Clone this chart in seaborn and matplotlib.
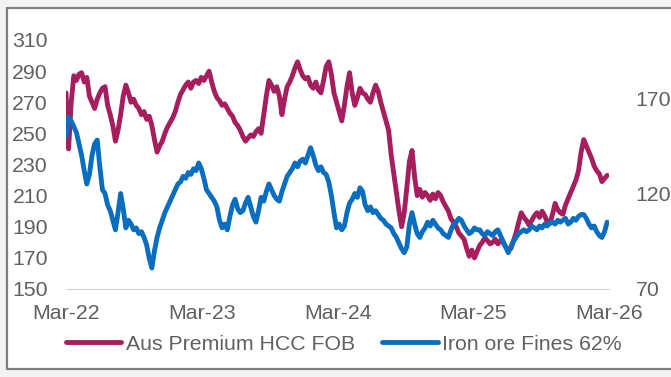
import seaborn as sns
import numpy as np
import matplotlib.pyplot as plt
import matplotlib.patches as mpatches
import pandas as pd

# weekly readings, Mar-22 .. Feb-26
hcc = [276, 240, 270, 287, 284, 288, 289, 283, 286, 274,
       270, 266, 272, 276, 279, 280, 268, 262, 255, 245,
       252, 262, 274, 281, 276, 270, 272, 268, 266, 262,
       264, 259, 261, 255, 246, 238, 242, 245, 250, 254,
       257, 260, 264, 270, 275, 278, 281, 283, 279, 283,
       284, 282, 286, 284, 287, 290, 283, 277, 273, 271,
       268, 269, 266, 263, 261, 257, 255, 252, 248, 245,
       247, 249, 248, 251, 253, 250, 262, 274, 284, 281,
       277, 280, 274, 262, 272, 280, 283, 287, 292, 296,
       291, 287, 285, 286, 281, 279, 283, 278, 276, 284,
       293, 296, 288, 276, 270, 264, 258, 268, 280, 289,
       276, 268, 273, 279, 276, 275, 272, 270, 276, 281,
       277, 270, 264, 258, 252, 236, 224, 212, 200, 190,
       199, 215, 232, 239, 222, 210, 214, 209, 212, 210,
       207, 211, 208, 212, 210, 206, 203, 200, 195, 193,
       190, 186, 184, 182, 176, 171, 175, 170, 174, 178,
       180, 183, 181, 179, 180, 182, 179, 181, 180, 177,
       175, 176, 181, 186, 193, 199, 196, 194, 191, 194,
       197, 199, 196, 200, 197, 193, 192, 198, 205, 201,
       199, 198, 204, 208, 212, 216, 220, 226, 238, 246,
       242, 238, 234, 229, 226, 224, 219, 221, 223]

iron_ore = [150, 160, 158, 155, 152, 146, 140, 132, 125, 130,
            140, 146, 148, 134, 122, 120, 114, 111, 106, 101,
            110, 120, 112, 102, 106, 104, 101, 102, 99, 100,
            97, 93, 86, 81, 90, 97, 102, 106, 110, 113,
            116, 119, 122, 125, 126, 129, 128, 131, 130, 133,
            132, 136, 133, 128, 122, 120, 118, 116, 113, 106,
            102, 104, 101, 108, 114, 117, 112, 110, 111, 115,
            118, 113, 108, 105, 111, 118, 116, 121, 125, 122,
            119, 117, 116, 121, 125, 129, 131, 133, 136, 134,
            137, 138, 136, 140, 144, 140, 135, 132, 134, 131,
            130, 126, 119, 110, 102, 104, 101, 103, 110, 115,
            117, 120, 118, 123, 121, 114, 111, 113, 110, 111,
            109, 107, 106, 104, 103, 102, 99, 97, 94, 91,
            89, 92, 104, 110, 104, 99, 97, 100, 102, 105,
            103, 106, 104, 102, 101, 99, 98, 97, 101, 104,
            105, 107, 106, 103, 101, 99, 100, 102, 101, 101,
            99, 98, 100, 99, 98, 100, 101, 98, 95, 92,
            89, 92, 95, 97, 99, 100, 101, 100, 101, 103,
            102, 101, 103, 102, 104, 103, 105, 105, 104, 106,
            105, 106, 107, 104, 105, 107, 106, 108, 109, 109,
            107, 104, 102, 103, 100, 98, 97, 100, 105]

x_ticks = ["2022-03-01", "2023-03-01", "2024-03-01", "2025-03-01", "2026-03-01"]
x_tick_labels = ["Mar-22", "Mar-23", "Mar-24", "Mar-25", "Mar-26"]
left_ticks = [150, 170, 190, 210, 230, 250, 270, 290, 310]
right_ticks = [70, 120, 170]

col_hcc = "#A61E5E"
col_iron = "#0A6EC0"
grey_txt = "#606060"


def create_chart():
    dates = pd.date_range("2022-03-01", periods=len(hcc), freq="7D")
    data = pd.DataFrame({"date": dates, "hcc": hcc, "iron": iron_ore})

    sns.set_style("white")
    plt.rcParams["font.family"] = ["Liberation Sans", "DejaVu Sans"]

    fig = plt.figure(figsize=(6.71, 3.77), dpi=100, facecolor="#f3f3f3")
    # outer frame of the chart
    fig.patches.append(mpatches.Rectangle((7 / 671, 8 / 377), 668 / 671, 361 / 377,
                                          transform=fig.transFigure, facecolor="white",
                                          edgecolor="#7f7f7f", lw=1.6, zorder=-1))

    ax = fig.add_axes([66 / 671, 88 / 377, 543 / 671, 249 / 377])
    ax.set_facecolor("none")
    ax2 = ax.twinx()

    sns.lineplot(x="date", y="hcc", data=data, color=col_hcc, lw=3.5, ax=ax,
                 label="Aus Premium HCC FOB", legend=False)
    sns.lineplot(x="date", y="iron", data=data, color=col_iron, lw=3.5, ax=ax2,
                 label="Iron ore Fines 62%", legend=False)

    ax.set_xlim(pd.Timestamp(x_ticks[0]), pd.Timestamp(x_ticks[-1]))
    ax.set_xticks([pd.Timestamp(d) for d in x_ticks])
    ax.set_xticklabels(x_tick_labels)
    ax.set_ylim(150, 310)
    ax.set_yticks(left_ticks)
    ax2.set_ylim(70, 200.4)
    ax2.set_yticks(right_ticks)

    for a in (ax, ax2):
        a.set_xlabel(None)
        a.set_ylabel(None)
        for s in a.spines.values():
            s.set_visible(False)
    ax.spines["bottom"].set_visible(True)
    ax.spines["bottom"].set_color("#d0d0d0")
    ax.tick_params(axis="x", length=3, color="#d0d0d0", pad=8, labelsize=15.3, labelcolor=grey_txt)
    ax.tick_params(axis="y", length=0, pad=13, labelsize=15.3, labelcolor=grey_txt)
    ax2.tick_params(axis="y", length=0, pad=19, labelsize=15.3, labelcolor=grey_txt)

    h1, l1 = ax.get_legend_handles_labels()
    h2, l2 = ax2.get_legend_handles_labels()
    fig.legend(h1 + h2, l1 + l2, loc="center left", bbox_to_anchor=(66 / 671, 33 / 377),
               ncol=2, frameon=False, fontsize=15.3, handlelength=2.6, handletextpad=0.2,
               columnspacing=1.3, borderpad=0, borderaxespad=0, labelcolor=grey_txt)

    fig.savefig("out.png", dpi=100, facecolor=fig.get_facecolor())


if __name__ == '__main__':
    create_chart()
